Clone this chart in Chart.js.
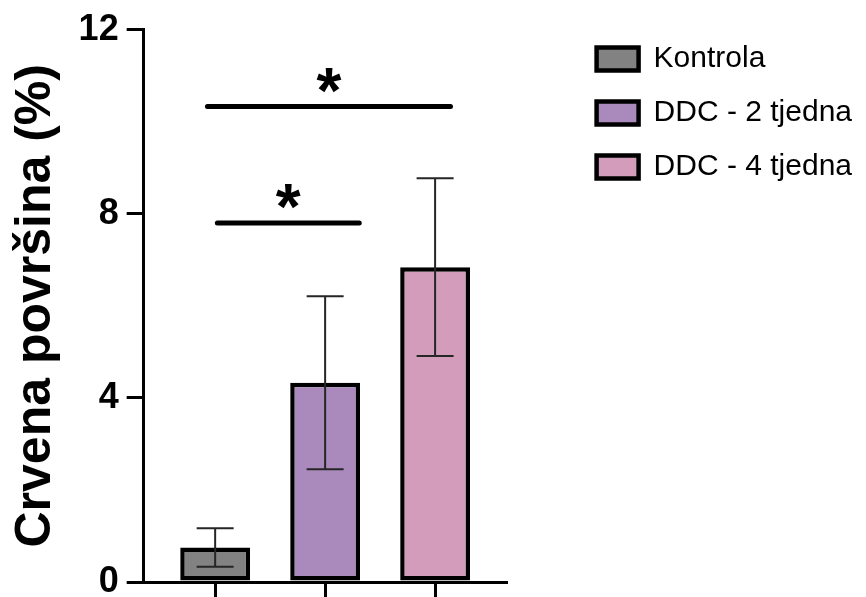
<!DOCTYPE html>
<html>
<head>
<meta charset="utf-8">
<title>Crvena površina</title>
<script src="https://cdn.jsdelivr.net/npm/chart.js@4.4.1/dist/chart.umd.min.js"></script>
<style>
  html, body { margin: 0; padding: 0; background: #fff; overflow: hidden; }
  #wrap { width: 866px; height: 612px; }
</style>
</head>
<body>
<div id="wrap"><canvas id="povrsinaChart"></canvas></div>
<script>
// Data
const categories = ['Kontrola', 'DDC - 2 tjedna', 'DDC - 4 tjedna'];
const means = [0.75, 4.33, 6.84];
const errors = [0.42, 1.88, 1.93];
const barColors = ['#828282', '#aa8abd', '#d29cba'];
const yTicks = [0, 4, 8, 12];

// significance bars: from / to (bar index units), height (%), mark
const sigFrom = [-0.07, 0.02];
const sigTo = [2.14, 1.31];
const sigY = [10.33, 7.8];
const sigMarks = ['*', '*'];

const FONT = '"Liberation Sans", Arial, Helvetica, sans-serif';

// error bars (mean ± SD)
const errorBars = {
  id: 'errorBars',
  afterDatasetsDraw(chart) {
    const { ctx, scales: { x, y } } = chart;
    ctx.save();
    ctx.strokeStyle = '#262626';
    ctx.lineWidth = 2;
    means.forEach((m, i) => {
      const px = x.getPixelForValue(i);
      const top = y.getPixelForValue(m + errors[i]);
      const bot = y.getPixelForValue(m - errors[i]);
      ctx.beginPath();
      ctx.moveTo(px, top);
      ctx.lineTo(px, bot);
      ctx.moveTo(px - 18.5, top);
      ctx.lineTo(px + 18.5, top);
      ctx.moveTo(px - 18.5, bot);
      ctx.lineTo(px + 18.5, bot);
      ctx.stroke();
    });
    ctx.restore();
  }
};

// significance lines with asterisks
const sigBrackets = {
  id: 'sigBrackets',
  afterDatasetsDraw(chart) {
    const { ctx, scales: { x, y } } = chart;
    ctx.save();
    ctx.strokeStyle = '#000';
    ctx.fillStyle = '#000';
    ctx.lineWidth = 5;
    ctx.lineCap = 'round';
    ctx.font = 'bold 64px ' + FONT;
    ctx.textAlign = 'center';
    ctx.textBaseline = 'alphabetic';
    sigFrom.forEach((f, i) => {
      const x1 = x.getPixelForValue(f);
      const x2 = x.getPixelForValue(sigTo[i]);
      const py = y.getPixelForValue(sigY[i]);
      ctx.beginPath();
      ctx.moveTo(x1, py);
      ctx.lineTo(x2, py);
      ctx.stroke();
      const m = ctx.measureText(sigMarks[i]);
      const cy = py - 26;
      ctx.fillText(sigMarks[i], (x1 + x2) / 2,
        cy + (m.actualBoundingBoxAscent - m.actualBoundingBoxDescent) / 2);
    });
    ctx.restore();
  }
};

const datasets = categories.map((name, i) => ({
  label: name,
  data: [{ x: i, y: means[i] }],
  backgroundColor: barColors[i],
  borderColor: '#000',
  borderWidth: 4.5,
  borderSkipped: false,
  grouped: false,
  barPercentage: 0.635,
  categoryPercentage: 1,
}));

new Chart(document.getElementById('povrsinaChart'), {
  type: 'bar',
  data: { datasets },
  plugins: [errorBars, sigBrackets],
  options: {
    responsive: true,
    maintainAspectRatio: false,
    animation: false,
    layout: { padding: { top: 20, right: 4, left: 0, bottom: 0 } },
    scales: {
      x: {
        type: 'linear',
        position: 'bottom',
        offset: false,
        min: -0.65,
        max: 2.65,
        ticks: { display: false, stepSize: 1, includeBounds: false },
        grid: { offset: false, drawOnChartArea: false, drawTicks: true, tickLength: 30, color: '#000', lineWidth: 3 },
        border: { color: '#000', width: 3 },
      },
      y: {
        min: 0,
        max: 12,
        afterBuildTicks: (axis) => { axis.ticks = yTicks.map((v) => ({ value: v })); },
        ticks: {
          color: '#000',
          padding: 8,
          font: { family: FONT, size: 36, weight: 'bold', lineHeight: 1.2 },
        },
        grid: { drawOnChartArea: false, tickLength: 17, color: '#000', lineWidth: 3 },
        border: { color: '#000', width: 3 },
        title: {
          display: true,
          text: 'Crvena površina (%)',
          color: '#000',
          font: { family: FONT, size: 50, weight: 'bold' },
          padding: { top: 6, bottom: 12 },
        },
      },
      // empty space between the plot and the legend
      gap: {
        type: 'linear',
        position: 'right',
        display: true,
        ticks: { display: false },
        grid: { display: false },
        border: { display: false },
        afterFit: (scale) => { scale.width = 66; },
      },
    },
    plugins: {
      legend: {
        position: 'right',
        align: 'start',
        maxWidth: 400,
        labels: {
          boxWidth: 42,
          boxHeight: 23,
          padding: 24,
          color: '#000',
          font: { family: FONT, size: 30 },
        },
      },
      tooltip: { enabled: false },
    },
  },
});
</script>
</body>
</html>
